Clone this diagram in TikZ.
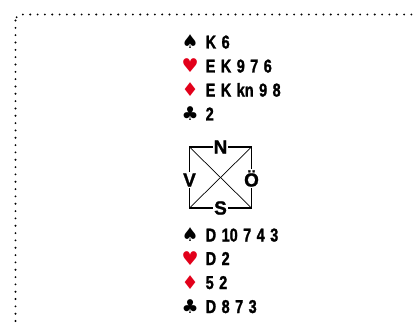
\documentclass[tikz,border=0pt]{standalone}
\usepackage{fontspec}
\setmainfont{Liberation Sans}[FakeStretch=0.78, WordSpace=1.35, BoldFeatures={FakeBold=1.3}]
\newfontfamily\symfont{DejaVu Sans}
\newfontfamily\dirfont{Liberation Sans}[BoldFeatures={FakeBold=1.2}]
\definecolor{suitred}{HTML}{E2001A}
\newcommand{\suitsym}[2]{\makebox[24pt][l]{\textcolor{#1}{\symfont\fontsize{19}{19}\selectfont#2}}}
\tikzset{
  hand/.style={anchor=base west, inner sep=0pt, font=\fontsize{18.6}{18.6}\selectfont\bfseries},
  dirlabel/.style={fill=white, inner sep=1pt, font=\dirfont\fontsize{19}{19}\selectfont\bfseries},
  frame/.style={line width=2.1pt, dash pattern=on 0pt off 7.33pt, line cap=round, rounded corners=6pt},
  boxline/.style={line width=1.1pt},
  diag/.style={line width=0.7pt}
}
\begin{document}
\begin{tikzpicture}[x=1pt,y=-1pt]
\useasboundingbox (0,0) rectangle (417,326);
\clip (0,0) rectangle (417,326);
\draw[frame] (15.5,14.5) rectangle (440,330);
% North hand
\node[hand] (ns) at (181.5,48.5) {\suitsym{black}{♠}K 6};
\node[hand] (nh) at (181.5,72.5) {\suitsym{suitred}{♥}E K 9 7 6};
\node[hand] (nd) at (181.5,96.5) {\suitsym{suitred}{♦}E K kn 9 8};
\node[hand] (nc) at (181.5,120.5) {\suitsym{black}{♣}2};
% compass
\coordinate (tl) at (189.5,147);
\coordinate (tr) at (251.5,147);
\coordinate (br) at (251.5,208);
\coordinate (bl) at (189.5,208);
\draw[boxline] (tl) -- (tr) -- (br) -- (bl) -- cycle;
\draw[diag] (tl) -- (br);
\draw[diag] (tr) -- (bl);
\node[dirlabel] (N) at (220.5,147) {N};
\node[dirlabel] (S) at (220.5,208) {S};
\node[dirlabel] (V) at (189.5,180) {V};
\node[dirlabel] (O) at (251.5,178.5) {Ö};
% South hand
\node[hand] (ss) at (181.5,241.5) {\suitsym{black}{♠}D 10 7 4 3};
\node[hand] (sh) at (181.5,265) {\suitsym{suitred}{♥}D 2};
\node[hand] (sd) at (181.5,289) {\suitsym{suitred}{♦}5 2};
\node[hand] (sc) at (181.5,313) {\suitsym{black}{♣}D 8 7 3};
\end{tikzpicture}
\end{document}
